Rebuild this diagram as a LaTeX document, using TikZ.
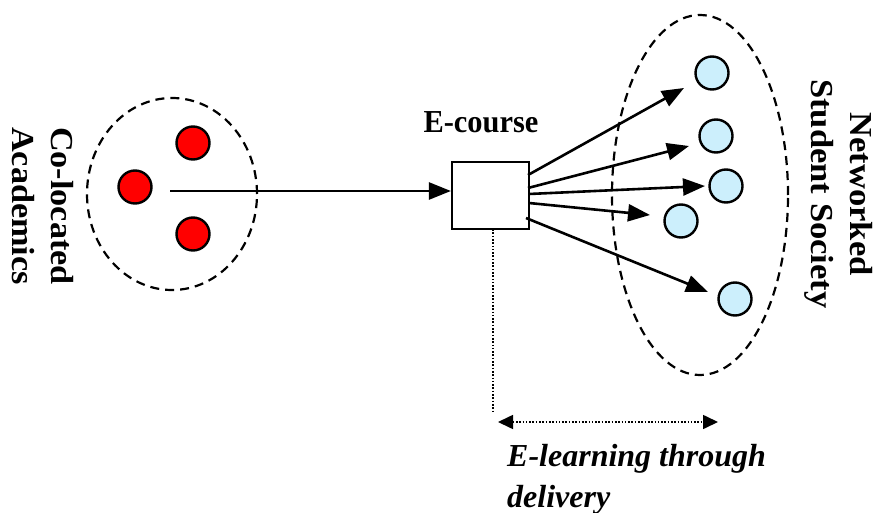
\documentclass[tikz,border=0pt]{standalone}
\usepackage{fontspec}
\setmainfont{Liberation Serif}
\usetikzlibrary{arrows.meta,shapes.geometric}

\begin{document}
\begin{tikzpicture}[x=1pt,y=-1pt,
  group/.style={draw, ellipse, line width=2.2pt, dash pattern=on 9pt off 6pt, inner sep=0pt},
  person/.style={draw, circle, line width=2.4pt, minimum size=33pt, inner sep=0pt},
  academic/.style={person, fill=red},
  student/.style={person, fill=cyan!20},
  course/.style={draw, rectangle, line width=2.2pt, fill=white, minimum width=77pt, minimum height=67pt, inner sep=0pt},
  flow/.style={line width=2.6pt, -{Triangle[length=22pt,width=17pt]}},
  guide/.style={line width=1.6pt, dash pattern=on 1.6pt off 1.7pt},
  title/.style={font=\fontsize{32}{39}\selectfont\bfseries, inner sep=0pt},
]
\useasboundingbox (0,0) rectangle (877,513);

% groups
\node[group, minimum width=170pt, minimum height=192pt] (colocated) at (172,194) {};
\node[group, minimum width=176pt, minimum height=360pt] (society) at (700,195) {};

% academics
\node[academic] (a1) at (193,143) {};
\node[academic] (a2) at (135,187) {};
\node[academic] (a3) at (193,234) {};

% students
\node[student] (s1) at (712,73) {};
\node[student] (s2) at (716,136) {};
\node[student] (s3) at (726,186) {};
\node[student] (s4) at (681,221) {};
\node[student] (s5) at (735,299) {};

% e-course
\node[course] (course) at (490.5,195.5) {};
\node[title] (ctitle) at (481,122) {\scalebox{0.95}[1]{E-course}};

% flow from academics to the course
\coordinate (src) at (170,191);
\draw[flow] (src) -- (src -| course.west);

% flows from the course to the students
\coordinate (o1) at (528,175);
\coordinate (o2) at (528,188);
\coordinate (o3) at (529,194);
\coordinate (o4) at (529,203);
\coordinate (o5) at (526,218);
\coordinate (t1) at (684,88);
\coordinate (t2) at (689,146);
\coordinate (t3) at (705,186);
\coordinate (t4) at (650,215);
\coordinate (t5) at (708,292);
\draw[flow] (o1) -- (t1);
\draw[flow] (o2) -- (t2);
\draw[flow] (o3) -- (t3);
\draw[flow] (o4) -- (t4);
\draw[flow] (o5) -- (t5);

% delivery span
\coordinate (d0) at (493,229);
\coordinate (d1) at (493,413);
\coordinate (da) at (498,422);
\coordinate (db) at (718,422);
\draw[guide] (d0) -- (d1);
\draw[guide, {Triangle[length=15pt,width=14pt]}-{Triangle[length=15pt,width=14pt]}] (da) -- (db);

% labels
\node[title, rotate=-90] (lacad) at (40,206)
  {\scalebox{1.07}[1]{\begin{tabular}{@{}c@{}}Co-located\\Academics\end{tabular}}};
\node[title, rotate=-90] (lsoc) at (839,194)
  {\scalebox{1.08}[1]{\begin{tabular}{@{}c@{}}Networked\\Student Society\end{tabular}}};
\node[anchor=north west, inner sep=0pt, align=left,
  font=\fontsize{32}{41}\selectfont\bfseries\itshape] (ldeliv) at (507,444)
  {E-learning through\\delivery};
\end{tikzpicture}
\end{document}
